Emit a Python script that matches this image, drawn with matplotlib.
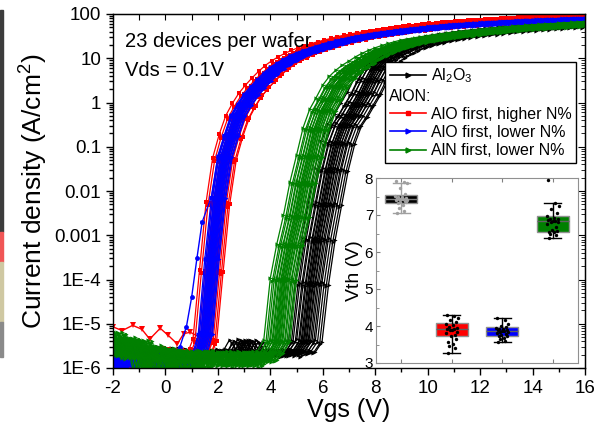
import numpy as np
import matplotlib
matplotlib.use("Agg")
import matplotlib.pyplot as plt
from matplotlib.lines import Line2D
from matplotlib.patches import Rectangle
from matplotlib.ticker import MultipleLocator, LogLocator, NullFormatter

plt.rcParams['font.family'] = ['Liberation Sans', 'DejaVu Sans']
plt.rcParams['mathtext.fontset'] = 'custom'
plt.rcParams['mathtext.rm'] = 'Liberation Sans'
plt.rcParams['mathtext.it'] = 'Liberation Sans:italic'
plt.rcParams['axes.unicode_minus'] = False

# gate sweep, -2.5 .. 16.5 V in 0.25 V steps (77 points)
vg = np.arange(-2.5, 16.51, 0.25)

# median transfer curve of each wafer (A/cm2)
j_black = [3.0e-6, 2.8e-6, 3.0e-6, 2.7e-6, 2.9e-6, 2.6e-6, 2.8e-6, 2.5e-6, 2.7e-6, 2.4e-6,
           2.6e-6, 2.3e-6, 2.5e-6, 2.2e-6, 2.4e-6, 2.2e-6, 2.3e-6, 2.1e-6, 2.3e-6, 2.1e-6,
           2.4e-6, 2.2e-6, 4.0e-6, 2.2e-6, 2.3e-6, 2.0e-6, 2.2e-6, 2.4e-6, 2.0e-6, 2.3e-6,
           2.4e-6, 4.0e-6, 8e-5, 8e-4, 5e-3, 0.03, 0.12, 0.3, 0.5, 0.9,
           1.6, 3.2, 6.0, 9.0, 11.5, 14, 16.5, 19, 21, 23,
           25, 27, 29, 30.8, 32.5, 34, 35.5, 37, 38.5, 40,
           41.5, 43, 44.5, 45.8, 47, 48.2, 49.5, 50.8, 52, 53.2,
           54.5, 55.6, 56.8, 58, 59, 60, 61]
j_red = [4.0e-6, 2.6e-6, 3.8e-6, 2.0e-6, 1.0e-6, 3.2e-6, 1.8e-6, 2.5e-6, 1.4e-6, 2.3e-6,
         2.4e-6, 0.8e-6, 2.2e-6, 1.5e-6, 2.3e-6, 1.7e-6, 4.0e-6, 1.5e-4, 5e-3, 0.05,
         0.17, 0.45, 0.85, 1.45, 2.2, 3.2, 4.5, 6.1, 7.8, 9.6,
         11.5, 13.4, 15.3, 17.2, 19, 21, 23, 25, 27.5, 29.5,
         31.5, 33.5, 35.5, 37.5, 39.5, 41.5, 43.5, 45.5, 47.5, 49.5,
         51, 53, 55, 56.5, 58, 59.5, 61, 62.5, 64, 65.5,
         67, 68.5, 70, 71, 72.5, 73.5, 75, 76, 77, 78,
         79, 80, 81, 82, 83, 84, 85]
j_blue = [4.5e-6, 2.2e-6, 4.2e-6, 0.8e-6, 3.5e-6, 1.2e-6, 3.0e-6, 1.6e-6, 2.8e-6, 0.7e-6,
          2.5e-6, 1.5e-6, 2.4e-6, 0.9e-6, 2.2e-6, 1.8e-6, 6e-6, 3e-4, 7e-3, 0.06,
          0.18, 0.5, 0.9, 1.5, 2.2, 3.2, 4.5, 6.0, 7.5, 9.2,
          11, 12.8, 14.5, 16.2, 18, 20, 22, 24, 26, 28,
          30, 32, 34, 35.8, 37.5, 39.2, 41, 42.8, 44.5, 46.2,
          48, 49.8, 51.5, 53.2, 55, 56.2, 57.5, 58.8, 60, 61.2,
          62.5, 63.8, 65, 66.2, 67.5, 68.8, 70, 71, 72, 73,
          74, 75, 76, 77, 78, 79, 80]
j_green = [7.0e-6, 3.5e-6, 6.0e-6, 2.0e-6, 4.6e-6, 1.8e-6, 4.0e-6, 0.9e-6, 3.0e-6, 1.6e-6,
           2.6e-6, 1.0e-6, 2.4e-6, 1.5e-6, 2.2e-6, 1.1e-6, 2.3e-6, 1.4e-6, 2.2e-6, 1.2e-6,
           2.1e-6, 1.3e-6, 2.2e-6, 1.2e-6, 2.1e-6, 1.5e-6, 2.2e-6, 4.0e-6, 1e-4, 6e-4,
           2.6e-3, 0.015, 0.06, 0.25, 0.65, 1.2, 2.3, 3.6, 5.0, 6.5,
           8.0, 10, 12, 14, 16, 18, 20, 22, 24, 25.5,
           27, 28.5, 30, 31.5, 33, 34.5, 36, 37.5, 39, 40.5,
           42, 43.5, 45, 46.2, 47.5, 48.8, 50, 51.2, 52.5, 53.8,
           55, 56.2, 57.5, 58.8, 60, 61, 62]

# device-to-device spread (23 devices per wafer): gate shift (V) and current factor
shift_black = [-0.55, -0.45, -0.38, -0.30, -0.24, -0.18, -0.13, -0.08, -0.04, 0.0, 0.03, 0.06,
               0.10, 0.14, 0.18, 0.23, 0.28, 0.34, 0.40, 0.47, 0.55, 0.63, 0.72]
shift_red = [-0.45, -0.38, -0.24, -0.18, -0.14, -0.10, -0.07, -0.05, -0.03, -0.01, 0.0, 0.02,
             0.04, 0.06, 0.08, 0.10, 0.13, 0.16, 0.20, 0.25, 0.32, 0.38, 0.45]
shift_blue = [-0.25, -0.25, -0.20, -0.16, -0.13, -0.10, -0.08, -0.06, -0.04, -0.02, 0.0, 0.01,
              0.03, 0.05, 0.07, 0.09, 0.11, 0.13, 0.16, 0.19, 0.22, 0.26, 0.30]
shift_green = [-0.50, -0.42, -0.35, -0.29, -0.24, -0.19, -0.15, -0.11, -0.07, -0.04, -0.01, 0.02,
               0.05, 0.08, 0.11, 0.15, 0.19, 0.23, 0.28, 0.33, 0.38, 0.44, 0.50]
fac_black = [1.10, 0.92, 1.04, 0.96, 1.12, 0.90, 1.06, 0.98, 1.02, 0.94, 1.08, 1.0,
             0.95, 1.05, 0.91, 1.09, 0.97, 1.03, 0.93, 1.07, 0.99, 0.89, 0.96]
fac_red = [1.12, 0.95, 1.05, 0.90, 1.08, 0.98, 1.15, 0.92, 1.02, 0.88, 1.10, 0.97,
           1.04, 0.93, 1.07, 0.99, 1.13, 0.91, 1.01, 0.94, 1.06, 0.89, 1.0]
fac_blue = [1.05, 0.97, 1.02, 0.94, 1.06, 0.99, 1.03, 0.95, 1.01, 0.92, 1.04, 0.98,
            1.0, 0.96, 1.05, 0.93, 1.02, 0.97, 0.99, 0.94, 1.01, 0.95, 0.97]
fac_green = [1.08, 0.94, 1.03, 0.91, 1.10, 0.97, 1.05, 0.93, 1.01, 0.96, 1.07, 0.99,
             0.95, 1.04, 0.92, 1.06, 0.98, 1.02, 0.90, 1.09, 0.97, 0.94, 1.0]

# leaky red device (last of shift_red) below turn-on
leak_vg = [-2.0, -1.65, -1.25, -0.9, -0.6, -0.2, 0.1, 0.45, 0.7, 0.95, 1.3]
leak_j = [8.5e-6, 7.0e-6, 9.2e-6, 7.5e-6, 4.5e-6, 7.9e-6, 5.5e-6, 3.5e-6, 6.0e-6, 6.4e-6, 5.0e-6]
# early turn-on blue device (first of shift_blue)
early_vg = [0.3, 0.55, 0.8, 1.0, 1.2, 1.4]
early_j = [2.0e-6, 3.0e-6, 8.6e-6, 4e-5, 3e-4, 2e-3]

# threshold voltages for the inset
vth_black = [7.93, 7.88, 7.86, 7.72, 7.56, 7.52, 7.50, 7.48, 7.46, 7.45, 7.44, 7.43,
             7.42, 7.41, 7.40, 7.38, 7.36, 7.34, 7.32, 7.28, 7.20, 7.10, 7.05]
vth_red = [4.30, 4.28, 4.22, 4.15, 4.10, 4.05, 4.02, 3.98, 3.95, 3.93, 3.91, 3.90,
           3.88, 3.85, 3.80, 3.76, 3.72, 3.65, 3.58, 3.52, 3.47, 3.40, 3.28]
vth_blue = [4.21, 4.15, 4.05, 4.00, 3.98, 3.95, 3.93, 3.91, 3.89, 3.88, 3.87, 3.86,
            3.85, 3.83, 3.80, 3.78, 3.76, 3.74, 3.72, 3.68, 3.64, 3.60, 3.58]
vth_green = [7.95, 7.32, 7.25, 7.15, 7.05, 6.97, 6.93, 6.90, 6.88, 6.86, 6.85, 6.84,
             6.82, 6.80, 6.75, 6.68, 6.60, 6.57, 6.55, 6.53, 6.50, 6.45, 6.37]
jitter = [-0.10, 0.05, 0.12, -0.03, 0.08, -0.12, 0.02, -0.06, 0.10, -0.09, 0.04, 0.0,
          -0.04, 0.11, -0.11, 0.07, -0.02, 0.09, -0.07, 0.03, -0.05, 0.06, -0.08]
# box statistics: (q1, median, q3, whisker low, whisker high)
box_black = (7.32, 7.43, 7.54, 7.05, 7.86)
box_red = (3.73, 3.91, 4.07, 3.28, 4.30)
box_blue = (3.73, 3.86, 3.96, 3.58, 4.21)
box_green = (6.55, 6.84, 6.97, 6.37, 7.32)

yticks = [1e-6, 1e-5, 1e-4, 1e-3, 1e-2, 1e-1, 1, 10, 100]
ylabels = ["1E-6", "1E-5", "1E-4", "0.001", "0.01", "0.1", "1", "10", "100"]

fig = plt.figure(figsize=(6, 4.28), dpi=100)
ax = fig.add_axes([113/600, 60/428, 472/600, 354/428])

groups = [
    (j_black, shift_black, fac_black, "black", ">"),
    (j_red, shift_red, fac_red, "red", "s"),
    (j_blue, shift_blue, fac_blue, "blue", ">"),
    (j_green, shift_green, fac_green, "green", ">"),
]
for j, shifts, facs, col, mk in groups:
    jb = np.array(j)
    for k in range(len(shifts)):
        x = vg + shifts[k]
        y = jb * facs[k]
        if col == "red" and k == len(shifts) - 1:
            m = x > leak_vg[-1]
            ax.plot(leak_vg, leak_j, color=col, lw=1.0, marker="v", ms=5, mew=0)
            x, y = x[m], y[m]
        if col == "blue" and k == 0:
            m = x > early_vg[-1] + 0.1
            ax.plot(early_vg, early_j, color=col, lw=1.0, marker="o", ms=3.5, mew=0)
            x = np.concatenate([[early_vg[-1]], x[m]])
            y = np.concatenate([[early_j[-1]], y[m]])
        ax.plot(x, y, color=col, lw=0.9, marker=mk, ms=3, mew=0)

ax.set_yscale("log")
ax.set_xlim(-2, 16)
ax.set_ylim(1e-6, 100)
ax.set_yticks(yticks, labels=ylabels)
ax.yaxis.set_minor_locator(LogLocator(base=10, subs=np.arange(2, 10), numticks=20))
ax.yaxis.set_minor_formatter(NullFormatter())
ax.xaxis.set_major_locator(MultipleLocator(2))
ax.xaxis.set_minor_locator(MultipleLocator(1))
ax.tick_params(which="both", direction="out", labelsize=13.5, width=1, top=False, right=False)
ax.tick_params(which="major", length=5)
ax.tick_params(which="minor", length=3)
sx = ax.secondary_xaxis("top")
sx.set_xticks(range(-2, 17))
sx.tick_params(direction="in", length=4, labeltop=False)
sy = ax.secondary_yaxis("right")
sy.set_yscale("log")
sy.set_yticks(yticks, labels=[])
sy.yaxis.set_minor_locator(LogLocator(base=10, subs=np.arange(2, 10), numticks=20))
sy.yaxis.set_minor_formatter(NullFormatter())
sy.tick_params(which="both", direction="in", labelright=False)
sy.tick_params(which="major", length=5)
sy.tick_params(which="minor", length=3)
for s in ax.spines.values():
    s.set_linewidth(1)
ax.set_xlabel("Vgs (V)", fontsize=18, labelpad=1)
ax.set_ylabel("Current density (A/cm$^2$)", fontsize=19, labelpad=3)

ax.text(0.025, 0.921, "23 devices per wafer", transform=ax.transAxes, fontsize=14.5, va="center")
ax.text(0.025, 0.839, "Vds = 0.1V", transform=ax.transAxes, fontsize=14.5, va="center")

handles = [
    Line2D([0], [0], color="black", lw=1.2, marker=">", ms=3.5),
    Line2D([], [], linestyle="none"),
    Line2D([0], [0], color="red", lw=1.2, marker="s", ms=3.5),
    Line2D([0], [0], color="blue", lw=1.2, marker=">", ms=3.5),
    Line2D([0], [0], color="green", lw=1.2, marker=">", ms=3.5),
]
labels = ["Al$_2$O$_3$", "AlON:", "AlO first, higher N%", "AlO first, lower N%", "AlN first, lower N%"]
leg = ax.legend(handles, labels, loc="upper left", bbox_to_anchor=(385/600, 1 - 62/428),
                bbox_transform=fig.transFigure, borderaxespad=0, fontsize=11.5,
                handlelength=2.25, handletextpad=0.3, labelspacing=0.2, borderpad=0.3,
                fancybox=False, framealpha=1, edgecolor="black")
leg.get_frame().set_linewidth(1)
leg.set_zorder(5)
leg.get_texts()[1].set_x(-42)

# inset with Vth distributions
ins = fig.add_axes([376/600, 65/428, 202/600, 185/428])
ins.set_zorder(6)
stats = []
for b in (box_black, box_red, box_blue, box_green):
    stats.append({"q1": b[0], "med": b[1], "q3": b[2], "whislo": b[3], "whishi": b[4]})
bp = ins.bxp(stats, positions=[1, 2, 3, 4], widths=0.63, patch_artist=True, showfliers=False,
             boxprops=dict(edgecolor="#909090", linewidth=1),
             medianprops=dict(color="#606060", linewidth=1),
             whiskerprops=dict(color="black", linewidth=1),
             capprops=dict(color="black", linewidth=1), capwidths=0.33)
fills = ["black", "red", "blue", "green"]
for i, patch in enumerate(bp["boxes"]):
    patch.set_facecolor(fills[i])
for line in bp["whiskers"][:2] + bp["caps"][:2]:
    line.set_color("#a0a0a0")
bp["medians"][0].set_color("#808080")

pt_colors = ["#a0a0a0", "black", "black", "black"]
for i, vals in enumerate((vth_black, vth_red, vth_blue, vth_green)):
    xs = [i + 1 + d for d in jitter]
    ins.scatter(xs, vals, s=6, color=pt_colors[i], zorder=4, linewidths=0)

ins.set_xlim(0.5, 4.5)
ins.set_ylim(3, 8)
ins.set_xticks([1, 2, 3, 4], labels=[])
ins.yaxis.set_minor_locator(MultipleLocator(0.5))
ins.tick_params(which="both", direction="in", color="#808080", labelsize=11, top=True, pad=2)
ins.tick_params(which="major", length=3)
ins.tick_params(which="minor", length=2)
for s in ins.spines.values():
    s.set_color("#909090")
ins.set_ylabel("Vth (V)", fontsize=14, labelpad=1)

# coloured strip at the left edge of the picture
strip = [("#3c3c3c", 10, 232), ("#f05656", 232, 262), ("#cfc8a2", 262, 322), ("#8a8a8a", 322, 357)]
for col, y0, y1 in strip:
    fig.patches.append(Rectangle((0, 1 - y1/428), 3/600, (y1 - y0)/428,
                                 transform=fig.transFigure, color=col, zorder=0))

fig.savefig("out.png", dpi=100)
